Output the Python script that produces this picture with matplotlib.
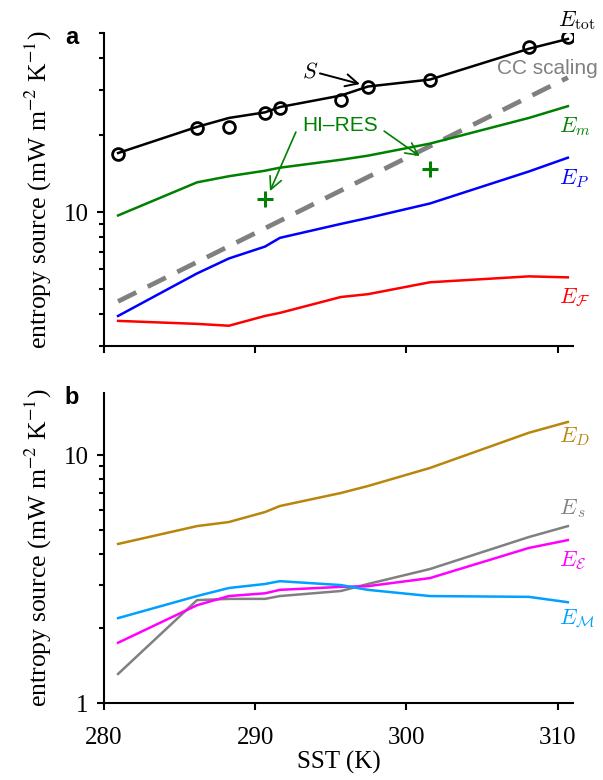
import matplotlib
matplotlib.use("Agg")
import matplotlib.pyplot as plt
from matplotlib.ticker import LogLocator, NullFormatter, FixedLocator, FixedFormatter

plt.rcParams['mathtext.fontset'] = 'cm'
plt.rcParams['font.family'] = 'Liberation Serif'

# SST of each run (K)
sst = [280.93, 286.15, 288.26, 290.64, 291.63, 295.66, 297.45, 301.55, 308.09, 310.67]

# panel a (mW m-2 K-1)
E_tot = [17.0, 21.5, 23.3, 24.5, 25.7, 28.5, 30.9, 32.9, 43.4, 47.4]
S_pts = [16.9, 21.3, 21.5, 24.3, 25.4, 27.5, 30.9, 32.9, 44.1, 48.2]
E_m = [9.7, 13.06, 13.8, 14.5, 14.9, 16.0, 16.6, 18.5, 23.3, 25.9]
E_P = [3.93, 5.76, 6.59, 7.33, 7.93, 8.99, 9.48, 10.8, 14.4, 16.3]
E_F = [3.76, 3.66, 3.60, 3.93, 4.04, 4.66, 4.78, 5.32, 5.61, 5.56]
cc_sst = [280.93, 310.67]
cc_val = [4.48, 33.5]
hires_sst = [290.64, 301.55]
hires_val = [11.2, 14.7]

# panel b
E_D = [4.38, 5.17, 5.37, 5.89, 6.23, 7.03, 7.5, 8.87, 12.3, 13.6]
E_s = [1.31, 2.60, 2.63, 2.63, 2.70, 2.83, 3.02, 3.47, 4.67, 5.17]
E_E = [1.75, 2.48, 2.70, 2.77, 2.86, 2.94, 2.96, 3.19, 4.22, 4.54]
E_M = [2.20, 2.70, 2.91, 3.02, 3.10, 2.99, 2.86, 2.70, 2.68, 2.55]

fig = plt.figure(figsize=(6.03, 7.80), dpi=100)
ax1 = fig.add_axes([0.1725, 0.5564, 0.7775, 0.4013])
ax2 = fig.add_axes([0.1725, 0.0987, 0.7775, 0.3975])

ylab = r'entropy source (mW m$^{-2}$ K$^{-1}$)'
LW = 1.8

for ax in (ax1, ax2):
    ax.set_yscale('log')
    ax.set_xlim(280, 311)
    ax.spines['top'].set_visible(False)
    ax.spines['right'].set_visible(False)
    ax.spines['left'].set_linewidth(1.5)
    ax.spines['bottom'].set_linewidth(1.5)
    ax.tick_params(which='major', direction='out', length=5, width=1.5, labelsize=18)
    ax.tick_params(which='minor', direction='out', length=3.5, width=1.5)
    ax.tick_params(axis='x', which='major', pad=12)
    ax.tick_params(axis='y', which='major', pad=6)
    ax.set_xticks([280, 290, 300, 310])
    ax.yaxis.set_minor_locator(LogLocator(base=10, subs=range(2, 10)))
    ax.yaxis.set_minor_formatter(NullFormatter())
    ax.set_ylabel(ylab, fontsize=18.5, math_fontfamily='stix', labelpad=7)

# ---- panel a
ax1.set_ylim(3, 50)
ax1.yaxis.set_major_locator(FixedLocator([10]))
ax1.yaxis.set_major_formatter(FixedFormatter(['10']))
ax1.set_xticklabels([])

ax1.plot(cc_sst, cc_val, color='#808080', lw=3.4, dashes=(4.3, 2.7))
ax1.plot(sst, E_tot, color='black', lw=LW)
ax1.plot(sst, S_pts, 'o', mfc='none', mec='black', mew=2, ms=8.5)
ax1.plot(sst, E_m, color='green', lw=LW)
ax1.plot(sst, E_P, color='blue', lw=LW)
ax1.plot(sst, E_F, color='red', lw=LW)
ax1.plot(hires_sst, hires_val, '+', color='green', ms=12, mew=2.2)

ax1.text(310.0, 56, r'$E_{\rm tot}$', fontsize=16, ha='left', va='center')
ax1.text(306.0, 36.2, 'CC scaling', fontsize=15, family='Liberation Sans',
         color='#808080', ha='left', va='center')
ax1.text(310.07, 21.6, r'$E_m$', fontsize=16, color='green', ha='left', va='center')
ax1.text(310.07, 13.5, r'$E_P$', fontsize=16, color='blue', ha='left', va='center')
ax1.text(310.07, 4.64, r'$E_{\mathcal{F}}$', fontsize=16, color='red', ha='left', va='center')

ax1.text(293.09, 35.2, r'$S$', fontsize=16, ha='left', va='center')
ax1.annotate('', xy=(297.1, 31.4), xytext=(294.1, 35.0),
             arrowprops=dict(arrowstyle='->', color='black', lw=1.4, mutation_scale=22))

ax1.text(293.09, 21.7, 'HI\u2013RES', fontsize=15, family='Liberation Sans',
         color='green', ha='left', va='center')
ax1.annotate('', xy=(290.9, 11.8), xytext=(292.76, 21.0),
             arrowprops=dict(arrowstyle='->', color='green', lw=1.2, mutation_scale=22))
ax1.annotate('', xy=(301.02, 16.3), xytext=(298.37, 21.0),
             arrowprops=dict(arrowstyle='->', color='green', lw=1.2, mutation_scale=22))

ax1.text(-0.068, 0.985, 'a', transform=ax1.transAxes, fontsize=17, weight='bold',
         family='Liberation Sans', ha='center', va='center')

# ---- panel b
ax2.set_ylim(1, 17.8)
ax2.yaxis.set_major_locator(FixedLocator([1, 10]))
ax2.yaxis.set_major_formatter(FixedFormatter(['1', '10']))
ax2.set_xlabel('SST (K)', fontsize=18, labelpad=2)

ax2.plot(sst, E_D, color='#B8860B', lw=LW)
ax2.plot(sst, E_s, color='#808080', lw=LW)
ax2.plot(sst, E_E, color='#FF00FF', lw=LW)
ax2.plot(sst, E_M, color='#00A0FF', lw=LW)

ax2.text(310.07, 11.9, r'$E_D$', fontsize=16, color='#B8860B', ha='left', va='center')
ax2.text(310.07, 6.06, r'$E_{\,s}$', fontsize=16, color='#808080', ha='left', va='center')
ax2.text(310.07, 3.74, r'$E_{\mathcal{E}}$', fontsize=16, color='#FF00FF', ha='left', va='center')
ax2.text(310.07, 2.18, r'$E_{\mathcal{M}}$', fontsize=16, color='#00A0FF', ha='left', va='center')

ax2.text(-0.068, 0.985, 'b', transform=ax2.transAxes, fontsize=17, weight='bold',
         family='Liberation Sans', ha='center', va='center')

fig.savefig('out.png', dpi=100)
